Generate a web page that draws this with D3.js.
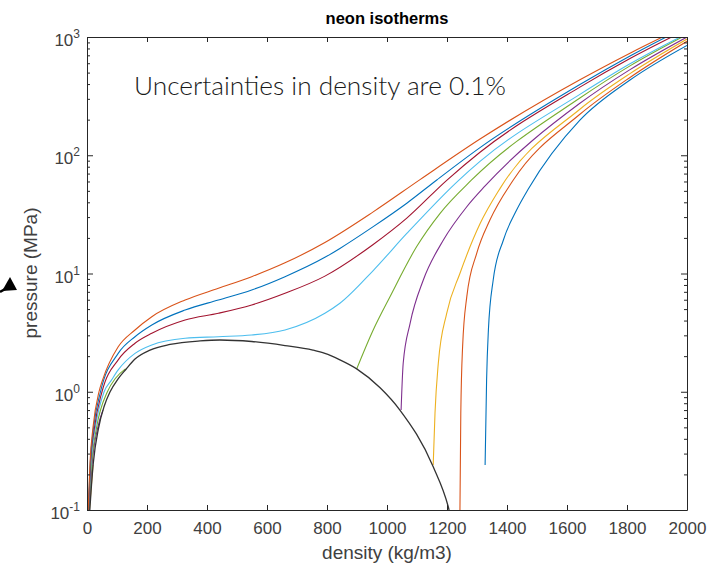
<!DOCTYPE html>
<html><head><meta charset="utf-8">
<script src="https://cdn.jsdelivr.net/npm/d3@7"></script>
<style>body{margin:0;background:#fff}svg{display:block}</style>
</head><body>
<svg id="chart" width="726" height="570"></svg>
<script>
// ---- data (density kg/m3, pressure MPa) ----
const xTicks = [0,200,400,600,800,1000,1200,1400,1600,1800,2000];
const yDecades = [-1,0,1,2,3];
const yMinor = [0.2,0.3,0.4,0.5,0.6,0.7,0.8,0.9,2,3,4,5,6,7,8,9,20,30,40,50,60,70,80,90,200,300,400,500,600,700,800,900];

const iso1Liquid = [[1327,0.24],[1332,1.26],[1338,3.33],[1354,8.81],[1388,19.2],[1432,34.4],[1471,51.8],[1643,198],[1810,433],[2000,850]];
const iso2Liquid = [[1243,0.09],[1246,0.658],[1252,2.40],[1266,6.37],[1299,14.8],[1343,28.3],[1421,61.8],[1643,222],[1810,455],[2000,920]];
const iso3Gas    = [[8,0.1],[20,0.24]];
const iso3Liquid = [[1154,0.24],[1160,0.658],[1171,1.74],[1199,4.61],[1243,10.0],[1310,26.3],[1377,52.5],[1643,245],[1810,490],[2000,960]];
const iso4Gas    = [[7,0.1],[17.3,0.25],[36,0.5],[53,0.70]];
const iso4Liquid = [[1047,0.70],[1054,1.74],[1077,3.79],[1121,8.81],[1188,19.2],[1266,36.7],[1327,55],[1643,275],[1810,530],[2000,1000]];
const iso5Gas    = [[6,0.1],[15.5,0.25],[32,0.5],[68,1.0],[95,1.3],[128,1.56]];
const iso5Liquid = [[899,1.56],[954,3.33],[1010,6.37],[1099,16.9],[1177,32.3],[1282,61.8],[1643,305],[1810,570],[2000,1050]];
const iso6 = [[5.5,0.1],[13.5,0.25],[28,0.5],[57,1.0],[82,1.26],[104,1.53],[160,2.11],[216,2.49],[327,2.83],[438,2.92],[549,3.02],[660,3.33],[793,4.61],[843,5.6],[954,10.6],[1066,21.8],[1238,61.1],[1310,88.7],[1643,327],[1810,593],[2000,1070]];
const iso7 = [[5,0.1],[12,0.25],[25,0.5],[50,1.0],[104,1.86],[160,2.57],[216,3.12],[327,4.04],[438,4.61],[549,5.42],[660,6.80],[793,9.5],[954,17.6],[1066,29.4],[1199,61.4],[1310,106],[1643,377],[1810,658],[2000,1160]];
const iso8 = [[4.5,0.1],[11,0.25],[22,0.5],[45,1.0],[104,2.11],[160,2.92],[216,3.67],[327,4.91],[438,5.97],[549,7.25],[660,9.40],[793,13.7],[843,16.3],[954,24.9],[1066,39.3],[1166,61.8],[1310,116],[1643,396],[1810,690],[2000,1230]];
const iso9 = [[4,0.1],[10,0.25],[20,0.5],[40,1.0],[52,1.26],[104,2.40],[160,3.33],[216,4.31],[327,5.97],[438,7.5],[549,9.4],[660,12.3],[793,18.3],[954,33.2],[1110,62.2],[1310,137],[1643,435],[1810,730],[2000,1260]];
const saturation = [[9.3,0.1],[14,0.15],[21,0.25],[39,0.5],[57,0.75],[77,1.0],[103,1.28],[130,1.55],[160,1.89],[210,2.25],[277,2.51],[377,2.69],[443,2.74],[549,2.66],[660,2.46],[753,2.25],[793,2.11],[843,1.86],[899,1.56],[977,1.08],[1043,0.70],[1154,0.232],[1204,0.107],[1207,0.1]];

// MATLAB default colour order
const lineColors = ["#0072BD","#D95319","#EDB120","#7E2F8E","#77AC30","#4DBEEE","#A2142F","#0072BD","#D95319"];
const isotherms = [
  [iso1Liquid],[iso2Liquid],[iso3Gas,iso3Liquid],[iso4Gas,iso4Liquid],[iso5Gas,iso5Liquid],
  [iso6],[iso7],[iso8],[iso9]
];

// ---- drawing ----
const svg = d3.select("#chart");
const X0=87, X1=687, Y0=510, Y1=37;
const x = d3.scaleLinear().domain([0,2000]).range([X0,X1]);
const y = d3.scaleLog().domain([0.1,1000]).range([Y0,Y1]);
const axisColor="#262626", font="'Liberation Sans', Arial, sans-serif";

svg.append("defs").append("clipPath").attr("id","clip")
  .append("rect").attr("x",X0).attr("y",Y1).attr("width",X1-X0).attr("height",Y0-Y1);

const line = d3.line().x(d=>x(d[0])).y(d=>y(d[1])).curve(d3.curveMonotoneX);
const plot = svg.append("g").attr("clip-path","url(#clip)");
isotherms.forEach((segs,i)=>{
  segs.forEach(seg=>{
    plot.append("path").attr("d",line(seg)).attr("fill","none")
      .attr("stroke",lineColors[i]).attr("stroke-width",1.1);
  });
});
plot.append("path").attr("d",line(saturation)).attr("fill","none")
  .attr("stroke","#333").attr("stroke-width",1.3);

function styleAxis(g){
  g.selectAll("path,line").attr("stroke",axisColor);
  g.selectAll("path.domain").attr("stroke-width",1);
  g.selectAll("text").attr("fill","#404040").attr("font-size",17).attr("font-family",font);
}
svg.append("g").attr("transform",`translate(0,${Y0})`)
  .call(d3.axisBottom(x).tickValues(xTicks).tickSize(-5).tickSizeOuter(0).tickPadding(12).tickFormat(d3.format("d")))
  .call(styleAxis);
svg.append("g").attr("transform",`translate(0,${Y1})`)
  .call(d3.axisTop(x).tickValues(xTicks).tickSize(-5).tickSizeOuter(0).tickFormat(""))
  .call(styleAxis);
const decadeVals = yDecades.map(e=>Math.pow(10,e));
svg.append("g").attr("transform",`translate(${X0},0)`)
  .call(d3.axisLeft(y).tickValues(decadeVals).tickSize(-6).tickSizeOuter(0).tickFormat(""))
  .call(styleAxis);
svg.append("g").attr("transform",`translate(${X0},0)`)
  .call(d3.axisLeft(y).tickValues(yMinor).tickSize(-3).tickSizeOuter(0).tickFormat(""))
  .call(styleAxis).select(".domain").remove();
svg.append("g").attr("transform",`translate(${X1},0)`)
  .call(d3.axisRight(y).tickValues(decadeVals).tickSize(-6).tickSizeOuter(0).tickFormat(""))
  .call(styleAxis);
svg.append("g").attr("transform",`translate(${X1},0)`)
  .call(d3.axisRight(y).tickValues(yMinor).tickSize(-3).tickSizeOuter(0).tickFormat(""))
  .call(styleAxis).select(".domain").remove();

// y tick labels with superscripts
yDecades.forEach(e=>{
  const t = svg.append("text").attr("x",X0-7).attr("y",y(Math.pow(10,e))+9)
    .attr("text-anchor","end").attr("font-family",font).attr("fill","#404040").attr("font-size",17);
  t.append("tspan").text("10");
  t.append("tspan").attr("font-size",12).attr("dy",-8).text(String(e));
});

// titles & labels
svg.append("text").attr("x",(X0+X1)/2).attr("y",24).attr("text-anchor","middle")
  .attr("font-family",font).attr("font-weight","bold").attr("font-size",16.5).attr("fill","#000")
  .text("neon isotherms");
svg.append("text").attr("x",(X0+X1)/2).attr("y",559).attr("text-anchor","middle")
  .attr("font-family",font).attr("font-size",19).attr("fill","#404040")
  .text("density (kg/m3)");
svg.append("text").attr("transform",`translate(37,273) rotate(-90)`).attr("text-anchor","middle")
  .attr("font-family",font).attr("font-size",19).attr("fill","#404040")
  .text("pressure (MPa)");

// annotation
svg.append("text").attr("x",134).attr("y",95)
  .attr("font-family","Lato, 'Open Sans', sans-serif").attr("font-weight",300).attr("font-size",25)
  .attr("fill","#1a1a1a").attr("textLength",372).attr("lengthAdjust","spacingAndGlyphs")
  .text("Uncertainties in density are 0.1%");

// partial arrow at the left edge
svg.append("path").attr("d","M0,292 L7,288").attr("stroke","#000").attr("stroke-width",2.5);
svg.append("polygon").attr("points","2,291 10,277 17,290").attr("fill","#000");
</script>
</body></html>
